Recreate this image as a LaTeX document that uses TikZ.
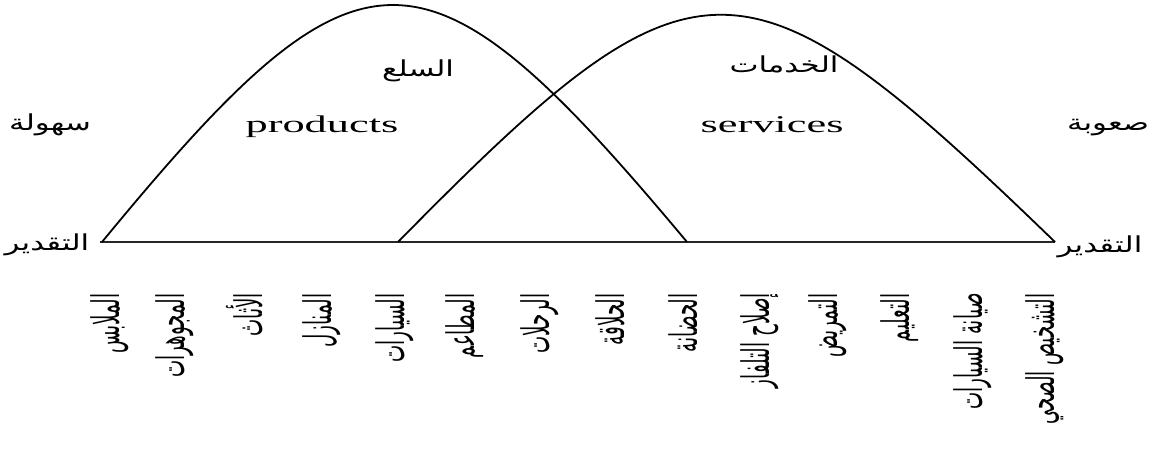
\documentclass[tikz,border=0pt]{standalone}
\usepackage{fontspec}
\TeXXeTstate=1
\newfontfamily\arabicfont[Script=Arabic,FakeStretch=1.4]{DejaVu Sans}
\newfontfamily\arabicrot[Script=Arabic,FakeStretch=0.48]{DejaVu Sans}
\newfontfamily\latinwide[FakeStretch=1.85]{Liberation Serif}

\begin{document}
\begin{tikzpicture}[x=0.5pt, y=-0.5pt,
    curve/.style={line width=0.9pt},
    axis/.style={line width=1.2pt, draw=black!85},
    word/.style={inner sep=0pt, anchor=base, font=\latinwide\fontsize{12}{12}\selectfont},
    ar/.style={inner sep=0pt, anchor=base, font=\arabicfont\fontsize{11}{11}\selectfont},
    item/.style={inner sep=0pt, rotate=90, anchor=east, font=\arabicrot\fontsize{19}{19}\selectfont},
  ]
  \useasboundingbox (0,0) rectangle (1154,457);

  \coordinate (a0) at (100,242);
  \coordinate (a1) at (1055,242);
  \coordinate (p0) at (102,242);
  \coordinate (p1) at (687,242);
  \coordinate (s0) at (398,242);
  \coordinate (s1) at (1055,242);

  \draw[axis] (a0) -- (a1);
  \draw[curve] (p0) .. controls (362,-74) and (423,-74) .. (p1);
  \draw[curve] (s0) .. controls (696,-61) and (742,-61) .. (s1);

  \node[word] (prod) at (322,132) {products};
  \node[word] (serv) at (772,132) {services};
  \node[ar] (sila) at (418,76) {\beginR السلع\endR};
  \node[ar] (khad) at (784,72) {\beginR الخدمات\endR};
  \node[ar] (sahl) at (50,130) {\beginR سهولة\endR};
  \node[ar] (taqL) at (47,250) {\beginR التقدير\endR};
  \node[ar] (saab) at (1108,130) {\beginR صعوبة\endR};
  \node[ar] (taqR) at (1100,252) {\beginR التقدير\endR};

  \foreach \x/\txt [count=\i] in {110/الملابس, 175/المجوهرات, 245/الأثاث,
      322/المنازل, 395/السيارات, 465/المطاعم, 540/الرحلات, 610/الحلاقة,
      683/الحضانة, 760/إصلاح التلفاز, 828/التمريض, 900/التعليم,
      973/صيانة السيارات, 1045/التشخيص الصحي}
    \node[item] (lab\i) at (\x,293) {\beginR\txt\endR};
\end{tikzpicture}
\end{document}
